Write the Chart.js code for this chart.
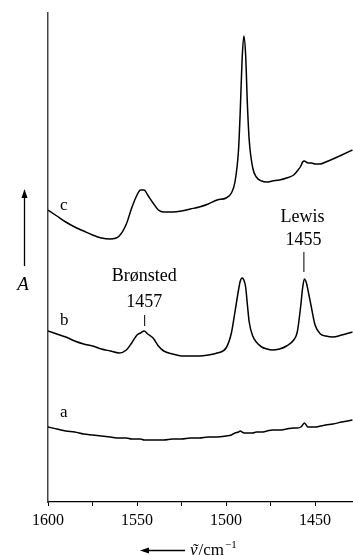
<!DOCTYPE html>
<html><head><meta charset="utf-8">
<script src="https://cdn.jsdelivr.net/npm/chart.js@4.4.1/dist/chart.umd.min.js"></script>
<style>html,body{margin:0;padding:0;background:#fff;}canvas{display:block;}</style>
</head><body><canvas id="c" width="353" height="556"></canvas>
<script>
// wavenumber / cm^-1
const wavenumbers = [1600,1595,1590,1585,1580,1575,1570,1565,1560,1556,1553,1550,1548,1546,1544,1541,1538,1535,1530,1525,1520,1515,1510,1505,1500,1497,1495,1493,1492,1491,1490,1489,1488,1487,1485,1483,1480,1477,1474,1470,1466,1462,1460,1458,1457,1456,1455,1454,1452,1450,1447,1444,1440,1435,1429];
// absorbance (offset, arbitrary units)
const spectrumA = [0.75,0.73,0.71,0.70,0.68,0.67,0.66,0.65,0.64,0.64,0.63,0.63,0.63,0.62,0.62,0.62,0.62,0.62,0.63,0.63,0.64,0.64,0.65,0.65,0.66,0.67,0.69,0.70,0.71,0.70,0.69,0.69,0.69,0.69,0.69,0.70,0.70,0.71,0.72,0.72,0.73,0.74,0.74,0.75,0.77,0.79,0.77,0.75,0.75,0.75,0.76,0.77,0.78,0.80,0.82];
const spectrumB = [1.71,1.68,1.65,1.61,1.58,1.56,1.53,1.51,1.49,1.52,1.59,1.67,1.69,1.71,1.68,1.64,1.56,1.51,1.48,1.46,1.46,1.46,1.47,1.49,1.54,1.69,1.90,2.12,2.21,2.24,2.22,2.15,1.97,1.80,1.66,1.60,1.55,1.53,1.52,1.53,1.56,1.62,1.70,1.97,2.14,2.23,2.20,2.12,1.94,1.77,1.68,1.66,1.65,1.67,1.70];
const spectrumC = [2.92,2.86,2.80,2.75,2.71,2.67,2.64,2.63,2.66,2.78,2.94,3.07,3.12,3.12,3.07,2.99,2.92,2.90,2.90,2.91,2.93,2.95,2.98,3.02,3.04,3.09,3.20,3.52,3.92,4.42,4.66,4.47,3.97,3.62,3.34,3.25,3.21,3.20,3.21,3.22,3.24,3.27,3.31,3.36,3.40,3.41,3.40,3.39,3.39,3.38,3.38,3.40,3.43,3.47,3.52];
const seriesNames = ['a','b','c'];
const xTickValues = [1600,1575,1550,1525,1500,1475,1450];
const xTickLabels = ['1600','','1550','','1500','','1450'];
const bronstedLabel = ['Brønsted','1457'];
const lewisLabel = ['Lewis','1455'];
const yTitle = 'A';

const serif = '"Liberation Serif", "DejaVu Serif", serif';
const toPts = arr => wavenumbers.map((w,i)=>({x:w,y:arr[i]}));

const annot = {
  id:'annot',
  afterDraw(chart){
    const {ctx, scales:{x,y}} = chart;
    ctx.save();
    ctx.fillStyle='#000'; ctx.strokeStyle='#000'; ctx.lineWidth=1;
    // series labels
    ctx.font = '17px '+serif; ctx.textAlign='left'; ctx.textBaseline='alphabetic';
    const labY = [417,325,210];
    seriesNames.forEach((n,i)=>ctx.fillText(n,60,labY[i]));
    // Lewis
    const lx = x.getPixelForValue(1456);
    const ly = y.getPixelForValue(spectrumB[wavenumbers.indexOf(1456)]);
    ctx.font = '18px '+serif; ctx.textAlign='center';
    ctx.fillText(lewisLabel[0], lx-2, 222);
    ctx.fillText(lewisLabel[1], lx-1, 245);
    ctx.beginPath(); ctx.moveTo(lx-0.5,252); ctx.lineTo(lx-0.5,ly-7); ctx.stroke();
    // Brønsted
    const bx = x.getPixelForValue(1546);
    const by = y.getPixelForValue(spectrumB[wavenumbers.indexOf(1546)]);
    ctx.fillText(bronstedLabel[0], bx, 281);
    ctx.fillText(bronstedLabel[1], bx, 307);
    ctx.beginPath(); ctx.moveTo(bx+0.5,315); ctx.lineTo(bx+0.5,by-5); ctx.stroke();
    // y title with arrow
    ctx.font = 'italic 19px '+serif;
    ctx.fillText(yTitle, 23, 290);
    ctx.lineWidth=1.3;
    ctx.beginPath(); ctx.moveTo(24.5,266); ctx.lineTo(24.5,196); ctx.stroke();
    ctx.beginPath(); ctx.moveTo(24.5,189); ctx.lineTo(21.5,198); ctx.lineTo(27.5,198); ctx.closePath(); ctx.fill();
    // x title with arrow
    ctx.lineWidth=1.3;
    ctx.beginPath(); ctx.moveTo(147,550.5); ctx.lineTo(185,550.5); ctx.stroke();
    ctx.beginPath(); ctx.moveTo(140,550.5); ctx.lineTo(149,547.5); ctx.lineTo(149,553.5); ctx.closePath(); ctx.fill();
    ctx.textAlign='left';
    ctx.font = 'italic 17px '+serif;
    ctx.fillText('ν', 190, 555);
    let w1 = ctx.measureText('ν').width;
    ctx.textAlign='center';
    ctx.fillText('˜', 190+w1/2+1, 555);
    ctx.textAlign='left';
    ctx.font = '17px '+serif;
    ctx.fillText('/cm', 190+w1+1, 555);
    let w2 = ctx.measureText('/cm').width;
    ctx.font = '11px '+serif;
    ctx.fillText('−1', 190+w1+1+w2+1, 548);
    ctx.restore();
  }
};

const ds = (arr,name)=>({label:name,data:toPts(arr),borderColor:'#000',borderWidth:1.5,pointRadius:0,fill:false,cubicInterpolationMode:'monotone'});

new Chart(document.getElementById('c'),{
  type:'line',
  data:{datasets:[ds(spectrumA,'a'),ds(spectrumB,'b'),ds(spectrumC,'c')]},
  options:{
    responsive:false, animation:false, devicePixelRatio:1,
    layout:{padding:{top:13,right:0,left:0,bottom:0}},
    plugins:{legend:{display:false},tooltip:{enabled:false}},
    scales:{
      x:{type:'linear',reverse:true,min:1428.7,max:1600,
        afterBuildTicks:s=>{s.ticks=xTickValues.map(v=>({value:v}));},
        afterFit:s=>{s.height=54;s.paddingLeft=0;s.paddingRight=0;},
        ticks:{autoSkip:false,maxRotation:0,padding:5,color:'#000',font:{family:serif,size:16},
          callback:(v)=>{const i=xTickValues.indexOf(v);return i>=0?xTickLabels[i]:'';}},
        grid:{display:true,drawOnChartArea:false,drawTicks:true,tickLength:4,color:'#000'},
        border:{display:true,color:'#000',width:1.2}
      },
      y:{type:'linear',min:0,max:4.89,
        afterFit:s=>{s.width=48;},
        ticks:{display:false},
        grid:{display:false,drawTicks:false},
        border:{display:true,color:'#444',width:1.5}
      }
    }
  },
  plugins:[annot]
});
</script></body></html>
